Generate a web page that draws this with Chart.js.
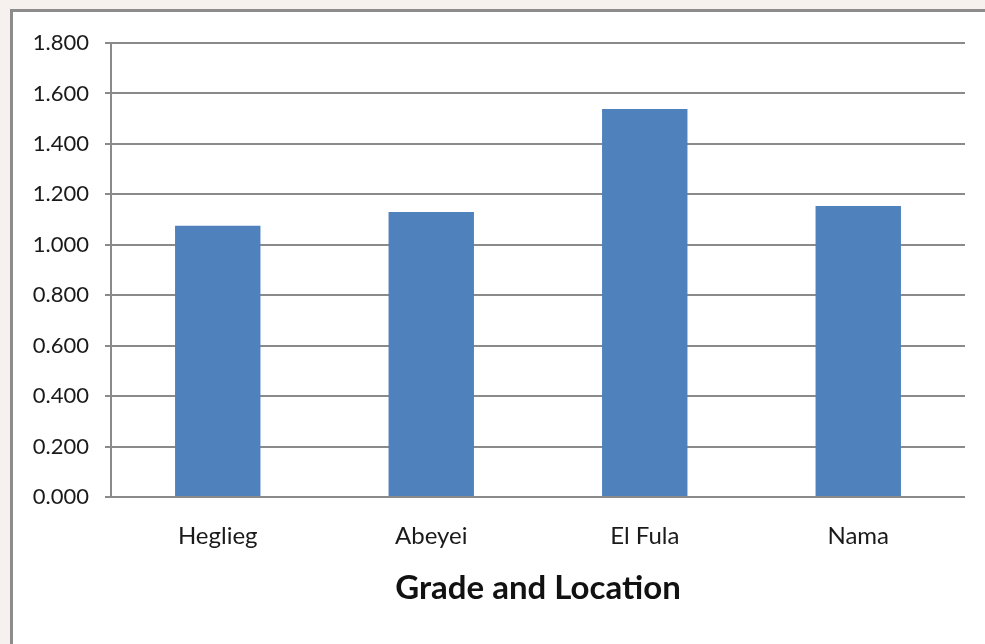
<!DOCTYPE html>
<html>
<head>
<meta charset="utf-8">
<script src="https://cdn.jsdelivr.net/npm/chart.js@4/dist/chart.umd.min.js"></script>
<style>
  html, body { margin: 0; padding: 0; background: #f6f1ee; }
  #wrap { position: absolute; left: 0; top: 0; width: 985px; height: 644px; }
</style>
</head>
<body>
<div id="wrap"><canvas id="c" width="985" height="644"></canvas></div>
<script>
const categories = ["Heglieg", "Abeyei", "El Fula", "Nama"];
const values = [1.075, 1.130, 1.538, 1.154];
const yTicks = { min: 0, max: 1.8, step: 0.2 };
const xTitle = "Grade and Location";

const frame = {
  id: 'frame',
  beforeDraw(chart) {
    const ctx = chart.ctx;
    ctx.save();
    ctx.fillStyle = '#f6f1ee';
    ctx.fillRect(0, 0, chart.width, chart.height);
    ctx.fillStyle = '#ffffff';
    ctx.fillRect(11, 10, chart.width, chart.height);
    ctx.strokeStyle = '#8c8c8c';
    ctx.lineWidth = 3;
    ctx.beginPath();
    ctx.moveTo(11.5, chart.height + 5);
    ctx.lineTo(11.5, 10.5);
    ctx.lineTo(chart.width + 5, 10.5);
    ctx.stroke();
    ctx.restore();
  }
};

const FONT = "Lato, 'Open Sans', sans-serif";
const gridCol = '#8a8a8a';

new Chart(document.getElementById('c'), {
  type: 'bar',
  data: {
    labels: categories,
    datasets: [{
      data: values,
      backgroundColor: '#4f81bd',
      borderWidth: 0,
      barPercentage: 0.4,
      categoryPercentage: 1.0
    }]
  },
  plugins: [frame],
  options: {
    responsive: false,
    animation: false,
    devicePixelRatio: 1,
    layout: { padding: { left: 20, right: 20, top: 43, bottom: 36 } },
    plugins: { legend: { display: false }, tooltip: { enabled: false } },
    scales: {
      x: {
        afterFit(scale) { scale.height = 111; },
        grid: { display: false, drawTicks: false },
        border: { display: false },
        ticks: {
          padding: 25,
          color: '#1a1a1a',
          font: { family: FONT, size: 24 }
        },
        title: {
          display: true,
          text: xTitle,
          color: '#111',
          font: { family: FONT, size: 33, weight: 'bold' },
          padding: { top: 17, bottom: 0 }
        }
      },
      y: {
        min: yTicks.min,
        max: yTicks.max,
        afterFit(scale) { scale.width = 91; },
        grid: { color: gridCol, lineWidth: 2, tickLength: 6, drawTicks: true },
        border: { display: true, color: gridCol, width: 2 },
        ticks: {
          stepSize: yTicks.step,
          padding: 16,
          color: '#1a1a1a',
          font: { family: FONT, size: 22 },
          callback: v => Number(v).toFixed(3)
        }
      }
    }
  }
});
</script>
</body>
</html>
